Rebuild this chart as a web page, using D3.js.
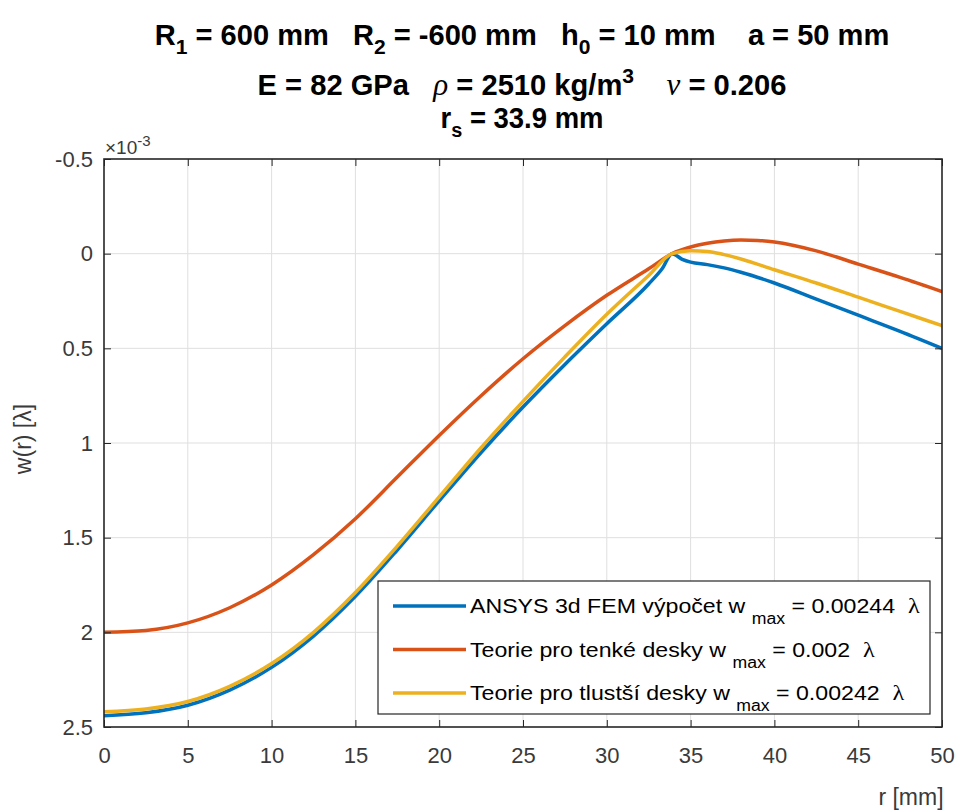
<!DOCTYPE html>
<html>
<head>
<meta charset="utf-8">
<script src="https://cdn.jsdelivr.net/npm/d3@7"></script>
<style>
  body { margin: 0; background: #fff; }
  svg { display: block; }
</style>
</head>
<body>
<svg id="chart" width="959" height="812"></svg>
<script>
// Deflection w(r) of the plate, in units of 1e-3 lambda, versus radius r [mm]

// ANSYS 3d FEM
const rAnsys = [0, 2.5, 5, 7.5, 10, 12.5, 15, 17.5, 20, 22.5, 25, 27.5, 30, 32.5, 33.3, 33.9, 34.5, 35, 36, 37, 38, 40, 42.5, 45, 47.5, 50];
const wAnsys = [2.44, 2.425, 2.385, 2.305, 2.185, 2.02, 1.81, 1.565, 1.305, 1.05, 0.81, 0.585, 0.37, 0.16, 0.08, 0.0, 0.03, 0.045, 0.058, 0.075, 0.098, 0.155, 0.24, 0.325, 0.41, 0.50];

// thin plate theory
const rThin = [0, 2.5, 5, 7.5, 10, 12.5, 15, 17.5, 20, 22.5, 25, 27.5, 30, 32.5, 33.9, 35, 36, 37, 38, 39, 40, 42.5, 45, 47.5, 50];
const wThin = [2.00, 1.99, 1.95, 1.87, 1.75, 1.59, 1.40, 1.18, 0.96, 0.75, 0.555, 0.38, 0.22, 0.08, 0.0, -0.035, -0.055, -0.067, -0.072, -0.07, -0.062, -0.015, 0.055, 0.125, 0.20];

// thick plate theory
const rThick = [0, 2.5, 5, 7.5, 10, 12.5, 15, 17.5, 20, 22.5, 25, 27.5, 30, 32.5, 33.9, 35, 36, 37, 38, 40, 42.5, 45, 47.5, 50];
const wThick = [2.42, 2.405, 2.365, 2.285, 2.165, 2.0, 1.79, 1.545, 1.285, 1.025, 0.78, 0.545, 0.32, 0.115, 0.0, -0.015, -0.012, 0.005, 0.028, 0.085, 0.155, 0.23, 0.305, 0.38];

const legendNames = ["ANSYS 3d FEM výpočet w", "Teorie pro tenké desky w", "Teorie pro tlustší desky w"];
const legendWmax = ["0.00244", "0.002", "0.00242"];
const seriesColors = ["#0072BD", "#D95319", "#EDB120"];

const xTicks = [0, 5, 10, 15, 20, 25, 30, 35, 40, 45, 50];
const xTickLabels = ["0", "5", "10", "15", "20", "25", "30", "35", "40", "45", "50"];
const yTicks = [-0.5, 0, 0.5, 1, 1.5, 2, 2.5];
const yTickLabels = ["-0.5", "0", "0.5", "1", "1.5", "2", "2.5"];

const series = [
  { r: rAnsys, w: wAnsys },
  { r: rThin, w: wThin },
  { r: rThick, w: wThick }
];

const svg = d3.select("#chart");
const plot = { left: 104, top: 159, right: 942, bottom: 727 };
const axisColor = "#262626";
const labelColor = "#3a3a3a";
const font = "'Liberation Sans', Arial, Helvetica, sans-serif";
const greekFont = "'Liberation Serif', 'Times New Roman', serif";

const x = d3.scaleLinear().domain([0, 50]).range([plot.left, plot.right]);
// y axis runs downward: -0.5 at the top, 2.5 at the bottom
const y = d3.scaleLinear().domain([-0.5, 2.5]).range([plot.top, plot.bottom]);

// grid
const grid = svg.append("g").attr("stroke", "#dfdfdf").attr("stroke-width", 1);
grid.selectAll("line.gx").data(xTicks.slice(1, -1)).join("line")
  .attr("x1", d => x(d)).attr("x2", d => x(d))
  .attr("y1", plot.top).attr("y2", plot.bottom);
grid.selectAll("line.gy").data(yTicks.slice(1, -1)).join("line")
  .attr("x1", plot.left).attr("x2", plot.right)
  .attr("y1", d => y(d)).attr("y2", d => y(d));

// curves
const line = d3.line()
  .x(d => x(d[0]))
  .y(d => y(d[1]))
  .curve(d3.curveMonotoneX);

svg.append("clipPath").attr("id", "plotclip").append("rect")
  .attr("x", plot.left).attr("y", plot.top - 2)
  .attr("width", plot.right - plot.left).attr("height", plot.bottom - plot.top + 2);

svg.append("g").attr("clip-path", "url(#plotclip)")
  .selectAll("path").data(series).join("path")
  .attr("d", s => line(s.r.map((rv, i) => [rv, s.w[i]])))
  .attr("fill", "none")
  .attr("stroke", (s, i) => seriesColors[i])
  .attr("stroke-width", 3.5)
  .attr("stroke-linejoin", "round")
  .attr("stroke-linecap", "round");

// axes with inward ticks on all four sides
const tickLen = 7;
function styleAxis(g) {
  g.select(".domain").remove();
  g.selectAll(".tick line").attr("stroke", axisColor).attr("stroke-width", 1);
  g.selectAll(".tick text")
    .attr("fill", labelColor)
    .attr("font-family", font)
    .attr("font-size", 22);
}

svg.append("g")
  .attr("transform", `translate(0,${plot.bottom})`)
  .call(d3.axisBottom(x).tickValues(xTicks).tickFormat((d, i) => xTickLabels[i])
    .tickSizeInner(-tickLen).tickSizeOuter(0).tickPadding(20))
  .call(styleAxis);

svg.append("g")
  .attr("transform", `translate(0,${plot.top})`)
  .call(d3.axisTop(x).tickValues(xTicks).tickFormat("")
    .tickSizeInner(-tickLen).tickSizeOuter(0))
  .call(styleAxis);

svg.append("g")
  .attr("transform", `translate(${plot.left},0)`)
  .call(d3.axisLeft(y).tickValues(yTicks).tickFormat((d, i) => yTickLabels[i])
    .tickSizeInner(-tickLen).tickSizeOuter(0).tickPadding(11))
  .call(styleAxis);

svg.append("g")
  .attr("transform", `translate(${plot.right},0)`)
  .call(d3.axisRight(y).tickValues(yTicks).tickFormat("")
    .tickSizeInner(-tickLen).tickSizeOuter(0))
  .call(styleAxis);

// axes box
svg.append("rect")
  .attr("x", plot.left).attr("y", plot.top)
  .attr("width", plot.right - plot.left).attr("height", plot.bottom - plot.top)
  .attr("fill", "none").attr("stroke", axisColor).attr("stroke-width", 1.6);

// exponent label
const expo = svg.append("text")
  .attr("x", plot.left + 1).attr("y", plot.top - 5)
  .attr("font-family", font).attr("font-size", 19).attr("fill", labelColor);
expo.append("tspan").text("×10");
expo.append("tspan").attr("font-size", 15).attr("dy", -8).text("-3");

// axis labels
svg.append("text")
  .attr("transform", `translate(31,${(plot.top + plot.bottom) / 2 - 4}) rotate(-90)`)
  .attr("text-anchor", "middle")
  .attr("font-family", font).attr("font-size", 23).attr("fill", labelColor)
  .text("w(r) [λ]");

svg.append("text")
  .attr("x", 911).attr("y", 805)
  .attr("text-anchor", "middle")
  .attr("font-family", font).attr("font-size", 23).attr("fill", labelColor)
  .text("r [mm]");

// title: three lines with sub/superscripts
const titleLines = [
  { y: 45, width: 735, parts: [["R", 0], ["1", 1], [" = 600 mm   R", 0], ["2", 1], [" = -600 mm   h", 0], ["0", 1], [" = 10 mm    a = 50 mm", 0]] },
  { y: 95, width: 529, parts: [["E = 82 GPa   ", 0], ["ρ", 2], [" = 2510 kg/m", 0], ["3", -1], ["    ", 0], ["ν", 2], [" = 0.206", 0]] },
  { y: 128, width: 163, parts: [["r", 0], ["s", 1], [" = 33.9 mm", 0]] }
];
titleLines.forEach(tl => {
  const g = svg.append("g");
  const t = g.append("text")
    .attr("font-family", font).attr("font-weight", "bold")
    .attr("font-size", 29).attr("fill", "#000")
    .attr("text-anchor", "middle").attr("xml:space", "preserve");
  let shift = 0;
  tl.parts.forEach(([txt, kind]) => {
    const sp = t.append("tspan").text(txt);
    let target = 0;
    if (kind === 1) { sp.attr("font-size", 21); target = 9; }
    if (kind === -1) { sp.attr("font-size", 21); target = -12; }
    if (kind === 2) { sp.attr("font-family", greekFont).attr("font-style", "italic").attr("font-weight", "normal").attr("font-size", 31); }
    if (target !== shift) { sp.attr("dy", target - shift); shift = target; }
  });
  const w = t.node().getComputedTextLength();
  g.attr("transform", `translate(522,${tl.y}) scale(${tl.width / w},1)`);
});

// legend
const lg = { x: 378, y: 581, w: 552, h: 133, row0: 606, rowGap: 43.5, textX: 470, textW: 450 };
svg.append("rect")
  .attr("x", lg.x).attr("y", lg.y).attr("width", lg.w).attr("height", lg.h)
  .attr("fill", "#fff").attr("stroke", axisColor).attr("stroke-width", 1.2);

const legendTexts = [];
legendNames.forEach((name, i) => {
  const cy = lg.row0 + i * lg.rowGap;
  svg.append("line")
    .attr("x1", lg.x + 15).attr("x2", lg.x + 88)
    .attr("y1", cy).attr("y2", cy)
    .attr("stroke", seriesColors[i]).attr("stroke-width", 3.5);
  const g = svg.append("g");
  const t = g.append("text")
    .attr("x", 0).attr("y", 0)
    .attr("font-family", font).attr("font-size", 21).attr("fill", "#000")
    .attr("xml:space", "preserve");
  t.append("tspan").text(name + " ");
  t.append("tspan").attr("font-size", 16).attr("dy", 11).text("max");
  t.append("tspan").attr("dy", -11).text(` = ${legendWmax[i]}  `);
  t.append("tspan").attr("font-family", greekFont).attr("font-size", 22).text("λ");
  legendTexts.push({ g, t, cy });
});
// common horizontal scale so the first row spans the legend's text column
const legendScale = lg.textW / legendTexts[0].t.node().getComputedTextLength();
legendTexts.forEach(({ g, cy }) => {
  g.attr("transform", `translate(${lg.textX},${cy + 7}) scale(${legendScale},1)`);
});
</script>
</body>
</html>
